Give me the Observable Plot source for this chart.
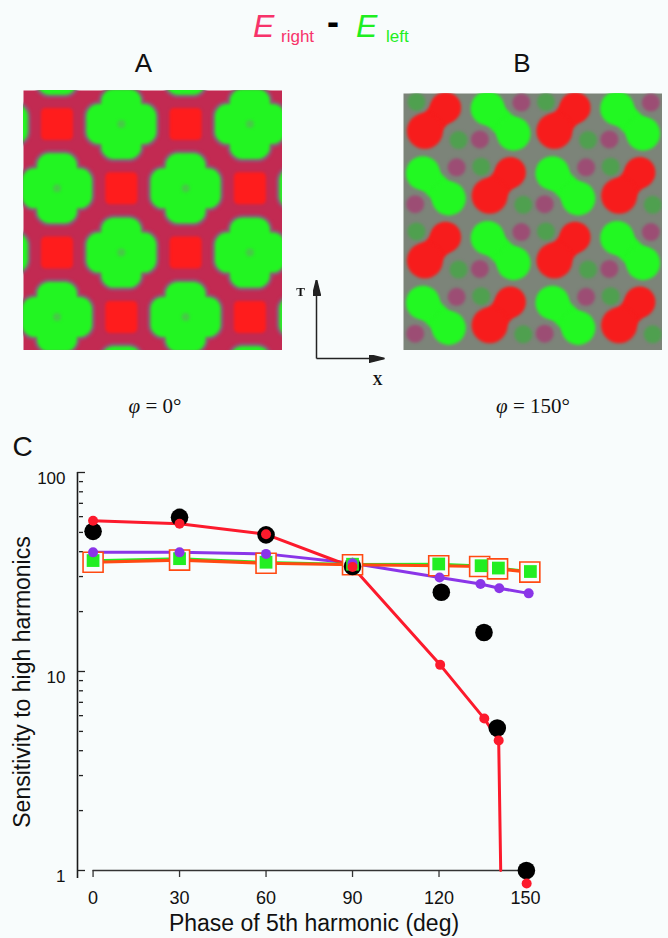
<!DOCTYPE html>
<html><head><meta charset="utf-8">
<script src="https://cdn.jsdelivr.net/npm/d3@7"></script>
<script src="https://cdn.jsdelivr.net/npm/@observablehq/plot@0.6"></script>
<style>
html,body{margin:0;padding:0;background:#f8fcfc;}
#page{position:relative;width:668px;height:938px;overflow:hidden;font-family:"Liberation Sans",Arial,Helvetica,sans-serif;color:#111;}
.abs{position:absolute;white-space:nowrap;line-height:1;}
</style></head><body><div id="page"></div>
<script>
// ---------------- data (panel C) ----------------
const xTicks = [0, 30, 60, 90, 120, 150];
const yTickLabels = [1, 10, 100];
const yMinorTicks = [2, 3, 4, 5, 6, 7, 8, 9, 20, 30, 40, 50, 60, 70, 80, 90];

const blackPhase = [0, 30, 60, 90, 120.8, 135.6, 140.2, 150.3];
const blackSens  = [50.6, 59.5, 48.6, 33.7, 25.0, 15.7, 5.2, 1.0];

const redLinePhase = [0, 30, 60, 90, 120.4, 135.7, 140.7, 141.4];
const redLineSens  = [57.2, 55.3, 48.9, 33.5, 10.8, 5.8, 4.5, 1.0];
const redDotPhase  = [0, 30, 60, 90, 120.4, 135.7, 140.7, 150.4];
const redDotSens   = [57.2, 55.3, 48.9, 33.5, 10.8, 5.8, 4.5, 0.86];

const purplePhase = [0, 30, 60, 90, 120.2, 134.4, 140.9, 151.1];
const purpleSens  = [39.7, 39.7, 39.0, 35.0, 29.7, 27.5, 26.2, 24.7];

const greenPhase = [0, 30, 60, 90, 119.9, 134.6, 140.6, 151.7];
const greenSens  = [36.1, 36.9, 35.4, 34.6, 34.7, 34.0, 33.1, 31.8];

const orangePhase = [0, 30, 60, 90, 119.9, 134.1, 140.3, 151.5];
const orangeSens  = [35.4, 36.3, 35.0, 34.4, 34.0, 33.7, 32.8, 31.6];

// ---------------- data (panel A pattern, lattice sites) ----------------
const patternA_green = [[-1,0],[-1,2],[-1,4],[0,-1],[0,1],[0,3],[1,0],[1,2],[1,4],[2,-1],[2,1],[2,3],[3,0],[3,2],[3,4],[4,-1],[4,1],[4,3]];
const patternA_red   = [[-1,-1],[-1,1],[-1,3],[0,0],[0,2],[0,4],[1,-1],[1,1],[1,3],[2,0],[2,2],[2,4],[3,-1],[3,1],[3,3],[4,0],[4,2],[4,4]];

// ---------------- data (panel B pattern, cells and blob layout) ----------------
const patternB_redCells   = [[0,0],[2,0],[1,1],[3,1],[0,2],[2,2],[1,3],[3,3]];
const patternB_greenCells = [[1,0],[3,0],[0,1],[2,1],[1,2],[3,2],[0,3],[2,3]];
const redLobes   = [[0.65, 0.22], [0.33, 0.58]];
const greenLobes = [[0.30, 0.23], [0.70, 0.62]];
const redCellSpots   = [[0.20, 0.13], [0.85, 0.72]];
const greenCellSpots = [[0.82, 0.14], [0.18, 0.71]];

// ---------------- axes sketch ----------------
const sketchArrows = [{x1: 0, y1: 0, x2: 0, y2: 1}, {x1: 0, y1: 0, x2: 1, y2: 0}];

// ---------------- helpers ----------------
const page = document.getElementById("page");
const BG = "#f8fcfc";
function place(el, left, top) {
  el.style.position = "absolute"; el.style.left = left + "px"; el.style.top = top + "px";
  page.appendChild(el); return el;
}
function txt(html, css) {
  const d = document.createElement("div");
  d.className = "abs"; d.innerHTML = html; d.style.cssText += css;
  page.appendChild(d); return d;
}
const zipPts = (xs, ys) => xs.map((x, i) => ({x, y: ys[i]}));

// ---------------- titles ----------------
txt("E", "left:253px;top:10px;font-size:32px;font-style:italic;color:#f7336a;");
txt("right", "left:281px;top:27.6px;font-size:17px;color:#f7336a;");
txt("-", "left:327px;top:4px;font-size:36px;font-weight:bold;color:#000;");
txt("E", "left:356px;top:10px;font-size:32px;font-style:italic;color:#1fee1f;");
txt("left", "left:386px;top:27.6px;font-size:17px;color:#1fee1f;");
txt("A", "left:123.5px;width:40px;text-align:center;top:50px;font-size:26px;");
txt("B", "left:502px;width:40px;text-align:center;top:50px;font-size:26px;");
txt('<span style="font-style:italic">&#966;</span> = 0&#176;', "left:95px;width:120px;text-align:center;top:396px;font-size:21px;font-family:'Liberation Serif','Times New Roman',serif;");
txt('<span style="font-style:italic">&#966;</span> = 150&#176;', "left:473px;width:120px;text-align:center;top:396px;font-size:21px;font-family:'Liberation Serif','Times New Roman',serif;");
txt("C", "left:12.5px;top:433px;font-size:28px;");
txt("Sensitivity to high harmonics", "left:21.5px;top:682px;font-size:23px;transform:translate(-50%,-50%) rotate(-90deg);");
txt("Phase of 5th harmonic (deg)", "left:314px;top:911.5px;font-size:23px;transform:translateX(-50%);");

// ---------------- panel A ----------------
function blurMarks(svg, px) {
  svg.querySelectorAll('[aria-label="dot"], [aria-label="link"]').forEach(g => { g.style.filter = `blur(${px}px)`; });
}
{
  const w = 259, h = 260, spacing = 64.3, off = 33.5;
  const green = "#22f522", red = "#ff1c1c", halo = "#8f5878", bg = "#c22a52";
  const X = d => d[0], Y = d => d[1];
  const svg = Plot.plot({
    width: w, height: h, margin: 0,
    style: {background: "transparent", overflow: "hidden"},
    x: {domain: [-off / spacing, (w - off) / spacing], axis: null},
    y: {domain: [-off / spacing, (h - off) / spacing], reverse: true, axis: null},
    marks: [
      Plot.frame({fill: bg}),
      Plot.dot(patternA_green, {x: X, y: Y, r: 29, fill: halo, clip: true}),
      Plot.dot(patternA_green, {x: X, y: Y, symbol: "cross", r: 18.9, fill: halo, stroke: halo, strokeWidth: 31, strokeLinejoin: "round", clip: true}),
      Plot.dot(patternA_green, {x: X, y: Y, r: 25.5, fill: green, clip: true}),
      Plot.dot(patternA_green, {x: X, y: Y, symbol: "cross", r: 18.9, fill: green, stroke: green, strokeWidth: 25, strokeLinejoin: "round", clip: true}),
      Plot.dot(patternA_green, {x: X, y: Y, r: 4, fill: "#48c848", clip: true}),
      Plot.dot(patternA_red, {x: X, y: Y, symbol: "square", r: 13, fill: red, stroke: red, strokeWidth: 9, strokeLinejoin: "round", clip: true})
    ]
  });
  blurMarks(svg, 1.6);
  place(svg, 23, 90);
}

// ---------------- panel B ----------------
{
  const w = 259, h = 257, cell = 64.75;
  const green = "#22f822", red = "#f71c1c", bg = "#7c8479", spotG = "#4fa04f", spotM = "#9c4d74";
  const shift = (cells, offs) => cells.flatMap(c => offs.map(o => [c[0] + o[0], c[1] + o[1]]));
  const X = d => d[0], Y = d => d[1];
  const peanut = (cells, lobes, color, r1, r2) => [
    Plot.link(cells, {x1: c => c[0] + lobes[0][0], y1: c => c[1] + lobes[0][1], x2: c => c[0] + lobes[1][0], y2: c => c[1] + lobes[1][1], stroke: color, strokeWidth: 25, strokeLinecap: "round", clip: true}),
    Plot.dot(cells, {x: c => c[0] + lobes[0][0], y: c => c[1] + lobes[0][1], r: r1, fill: color, clip: true}),
    Plot.dot(cells, {x: c => c[0] + lobes[1][0], y: c => c[1] + lobes[1][1], r: r2, fill: color, clip: true})
  ];
  const svg = Plot.plot({
    width: w, height: h, margin: 0,
    style: {background: "transparent", overflow: "hidden"},
    x: {domain: [0, w / cell], axis: null},
    y: {domain: [0, h / cell], reverse: true, axis: null},
    marks: [
      Plot.frame({fill: bg}),
      Plot.dot(shift(patternB_redCells, redCellSpots), {x: X, y: Y, r: 9, fill: spotG, clip: true}),
      Plot.dot(shift(patternB_greenCells, greenCellSpots), {x: X, y: Y, r: 9, fill: spotM, clip: true}),
      ...peanut(patternB_redCells, redLobes, red, 15.5, 18),
      ...peanut(patternB_greenCells, greenLobes, green, 17, 17)
    ]
  });
  blurMarks(svg, 1.6);
  place(svg, 403, 93);
}

// ---------------- axes sketch (T / X) ----------------
{
  const head = (color) => {
    const ns = "http://www.w3.org/2000/svg";
    const m = document.createElementNS(ns, "marker");
    m.setAttribute("viewBox", "-15 -4 16 8");
    m.setAttribute("markerWidth", "16"); m.setAttribute("markerHeight", "8");
    m.setAttribute("markerUnits", "userSpaceOnUse");
    m.setAttribute("orient", "auto"); m.setAttribute("refX", "0"); m.setAttribute("refY", "0");
    const p = document.createElementNS(ns, "path");
    p.setAttribute("d", "M-15,-4L1,0L-15,4Z"); p.setAttribute("fill", color);
    m.appendChild(p); return m;
  };
  const make = (marker) => Plot.plot({
    width: 110, height: 125, marginLeft: 30, marginRight: 13, marginTop: 10, marginBottom: 37,
    style: {background: "transparent", overflow: "visible"},
    x: {domain: [0, 1], axis: null}, y: {domain: [0, 1], axis: null},
    marks: [
      Plot.link(sketchArrows, {x1: "x1", y1: "y1", x2: "x2", y2: "y2", stroke: "#222", strokeWidth: 1.5, markerEnd: marker}),
      Plot.text([sketchArrows[0]], {x: "x2", y: "y2", text: () => "T", dx: -16, dy: 11, fontSize: 13, fontWeight: "bold", fontFamily: "Liberation Serif, Times New Roman, serif", fill: "#111"}),
      Plot.text([sketchArrows[1]], {x: "x2", y: "y2", text: () => "X", dx: -6, dy: 22, fontSize: 14, fontWeight: "bold", fontFamily: "Liberation Serif, Times New Roman, serif", fill: "#111"})
    ]
  });
  let svg;
  try { svg = make(head); } catch (e) { svg = make("arrow"); }
  place(svg, 286, 270);
}

// ---------------- panel C ----------------
{
  const xDomain = [-5.4, 150];
  const mL = 77, mR = 143, frameW = 668 - mL - mR;
  const red = "#fc1a2c", purple = "#8a35e8", green = "#22ee22", orange = "#ff4a12";
  const black = zipPts(blackPhase, blackSens);
  const redLine = zipPts(redLinePhase, redLineSens);
  const redDots = zipPts(redDotPhase, redDotSens);
  const purplePts = zipPts(purplePhase, purpleSens);
  const greenPts = zipPts(greenPhase, greenSens);
  const orangePts = zipPts(orangePhase, orangeSens);
  const svg = Plot.plot({
    width: 668, height: 508,
    marginLeft: mL, marginRight: mR, marginTop: 42, marginBottom: 68,
    style: {background: "transparent", overflow: "visible", fontFamily: "Liberation Sans, Arial, Helvetica, sans-serif", color: "#111"},
    x: {domain: xDomain},
    y: {type: "log", domain: [1, 100]},
    marks: [
      Plot.ruleX([xDomain[0]], {stroke: "#1a1a1a", strokeWidth: 1.6, insetBottom: -8}),
      Plot.tickY(yMinorTicks, {y: d => d, stroke: "#222", strokeWidth: 1.3, insetLeft: 2, insetRight: frameW - 6}),
      Plot.tickY(yTickLabels, {y: d => d, stroke: "#222", strokeWidth: 1.3, insetLeft: 0, insetRight: frameW - 8}),
      Plot.axisY(yTickLabels, {tickSize: 0, tickPadding: 12, fontSize: 17, dy: 6, label: null, tickFormat: d => String(d)}),
      Plot.ruleY([1], {x1: xTicks[0], x2: xTicks[xTicks.length - 1], stroke: "#333", strokeWidth: 1.6, insetRight: -7}),
      Plot.axisX(xTicks, {tickSize: 7, tickPadding: 14, fontSize: 18, label: null, stroke: "#333", strokeWidth: 1.3}),
      Plot.line(purplePts, {x: "x", y: "y", stroke: purple, strokeWidth: 3}),
      Plot.line(redLine, {x: "x", y: "y", stroke: red, strokeWidth: 3}),
      Plot.line(greenPts, {x: "x", y: "y", stroke: green, strokeWidth: 2.6}),
      Plot.line(orangePts, {x: "x", y: "y", stroke: orange, strokeWidth: 3.2}),
      Plot.dot(orangePts, {x: "x", y: "y", symbol: "square", r: 11.3, fill: BG, stroke: orange, strokeWidth: 1.6}),
      Plot.dot(black, {x: "x", y: "y", r: 8.8, fill: "#000"}),
      Plot.dot(greenPts, {x: "x", y: "y", symbol: "square", r: 7.2, fill: green}),
      Plot.dot(purplePts, {x: "x", y: "y", r: 5, fill: purple}),
      Plot.dot(redDots, {x: "x", y: "y", r: 5, fill: red})
    ]
  });
  place(svg, 0, 430);
}
</script></body></html>
